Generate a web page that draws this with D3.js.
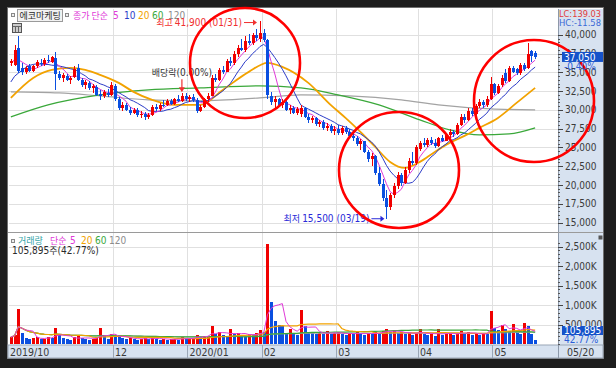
<!DOCTYPE html>
<html>
<head>
<meta charset="utf-8">
<script src="https://cdn.jsdelivr.net/npm/d3@7"></script>
<style>
  html, body { margin: 0; padding: 0; background: #1d1d1d; }
  svg { display: block; }
  text { font-family: 'Liberation Sans Narrow', 'Arial Narrow', 'DejaVu Sans Condensed', 'Noto Sans CJK KR', sans-serif; }
</style>
</head>
<body>
<svg id="chart"></svg>
<script>
// months shown on the x axis ('' = month not labelled)
const monthLabels = ['2019/10', '', '12', '2020/01', '02', '03', '04', '05'];
const sessionsPerMonth = [7, 21, 20, 20, 20, 22, 20, 12];

const opens = [
  36200, 36000, 38200, 35600, 35000, 35800, 35200,
  35800, 36300, 36100, 36700, 36400, 36900, 34800, 34300, 34500, 34000, 34400, 35600, 34000, 33300, 33600, 32900, 33100, 32100, 31900, 32300, 32000,
  33200, 31400, 30300, 30700, 30000, 29600, 30000, 29300, 29500, 29000, 29300, 30400, 30100, 30700, 30600, 31200, 30800, 31400, 31200, 31900,
  31500, 31700, 31300, 29900, 30400, 31400, 31900, 34200, 34000, 35300, 35100, 36500, 36200, 37500, 38300, 38000, 39200, 38900, 40000, 39400,
  40200, 39300, 31800, 31000, 31400, 30700, 31100, 30000, 30300, 29600, 29400, 30200, 29100, 28600, 28900, 28100, 28400, 27600, 27900, 27200,
  27500, 26900, 27600, 27000, 26500, 26200, 25500, 25800, 24400, 23400, 23900, 21600, 20100, 18200, 17000, 18600, 19900, 21300, 20300, 22000, 23200, 22900,
  24800, 25600, 25300, 26000, 25600, 25200, 26200, 25900, 26700, 27100, 26800, 28000, 29100, 28700, 29800, 29500, 30500, 31100, 30600, 31400,
  33400, 32300, 33300, 34900, 33900, 35600, 35400, 34900, 36000, 35600, 37800, 37600
];
const highs = [
  36800, 38600, 39800, 36300, 35900, 36100, 36000,
  36600, 36800, 36900, 37300, 37200, 37700, 35200, 34900, 34800, 34500, 35800, 36100, 34300, 34000, 33900, 33500, 33300, 32600, 32700, 32800, 33700,
  33400, 31700, 31000, 30900, 30400, 30300, 30200, 29800, 29700, 29600, 30600, 30800, 30900, 31300, 31400, 31500, 31600, 32000, 32200, 32200,
  32000, 32100, 31600, 30600, 31600, 32200, 34600, 34800, 35600, 35800, 36800, 37000, 37800, 38600, 39500, 39800, 40100, 40300, 40800, 41900,
  40800, 39500, 32400, 31800, 31600, 31500, 31300, 30700, 30500, 30400, 30600, 30400, 29500, 29200, 29000, 28700, 28600, 28200, 28100, 27800,
  28000, 27900, 27900, 27400, 26900, 26500, 26100, 25900, 24700, 24300, 24000, 22400, 20800, 19300, 18900, 20300, 21700, 21600, 22400, 23600, 24400, 25300,
  25900, 26200, 26300, 26400, 26100, 26400, 26700, 26900, 27400, 27300, 28300, 29400, 29400, 30200, 30300, 30800, 31400, 31300, 31800, 34400,
  33600, 33500, 34700, 35400, 35900, 35800, 35600, 36300, 36200, 38900, 38000, 37900
];
const lows = [
  35900, 35800, 34900, 34600, 34800, 35000, 35000,
  35600, 35900, 35900, 36300, 36200, 32700, 34000, 33700, 33800, 33500, 34200, 33800, 33000, 32800, 32600, 32200, 31800, 31300, 31600, 31700, 31900,
  31200, 30000, 29900, 29800, 29300, 29400, 29000, 28900, 28700, 28800, 29200, 29900, 29900, 30400, 30500, 30600, 30600, 31000, 31000, 31200,
  31000, 31100, 29600, 29700, 30200, 31100, 31800, 33700, 33800, 34800, 35000, 35800, 36000, 37000, 37800, 37700, 38600, 38700, 39200, 39100,
  39000, 31500, 30600, 30200, 30400, 30300, 29800, 29500, 29400, 29300, 29100, 28900, 28300, 28200, 27900, 27700, 27300, 27200, 26900, 26700,
  26600, 26700, 26800, 26200, 25800, 25200, 24700, 24200, 23000, 22500, 21300, 19800, 17800, 15500, 16600, 18300, 19500, 19800, 20100, 21600, 22700, 22600,
  24500, 25100, 25000, 25300, 24900, 25100, 25700, 25800, 26300, 26400, 26700, 27800, 28300, 28500, 29200, 29300, 30200, 30300, 30400, 31300,
  32000, 32100, 33100, 33600, 33700, 34900, 34600, 34700, 35200, 35400, 36400, 36800
];
const closes = [
  36500, 38000, 35200, 35000, 35600, 35200, 35800,
  36400, 36100, 36700, 36500, 37000, 34800, 34300, 34600, 34000, 34300, 35400, 34000, 33300, 33700, 32900, 33200, 32000, 31900, 32400, 32000, 33300,
  31400, 30300, 30700, 30000, 29600, 30000, 29300, 29500, 29000, 29300, 30400, 30100, 30700, 30600, 31200, 30800, 31400, 31200, 31900, 31500,
  31700, 31300, 29900, 30400, 31400, 31900, 34200, 34000, 35300, 35100, 36500, 36200, 37500, 38300, 38000, 39200, 38900, 40000, 39600, 40200,
  39300, 32000, 31000, 31400, 30700, 31100, 30000, 30300, 29600, 30100, 30200, 29100, 28600, 28900, 28100, 28400, 27600, 27900, 27200, 27500,
  26900, 27600, 27000, 26500, 26200, 25500, 25800, 24400, 23400, 23900, 21600, 20100, 18200, 17000, 18600, 19900, 21300, 20300, 22000, 23200, 22900, 25000,
  25600, 25300, 26000, 25600, 25200, 26200, 25900, 26700, 27100, 26800, 28000, 29100, 28700, 29800, 29500, 30500, 31100, 30600, 31500, 33500,
  32300, 33200, 34300, 33900, 35600, 35100, 34900, 36000, 35500, 37400, 37200, 37050
];
// thousand shares
const volumesK = [
  180, 240, 910, 290, 160, 130, 150,
  170, 120, 140, 190, 160, 420, 230, 150, 120, 110, 180, 200, 150, 130, 110, 140, 170, 420, 210, 140, 260,
  230, 180, 150, 120, 160, 140, 110, 130, 150, 120, 170, 140, 110, 130, 100, 120, 140, 110, 180, 130,
  140, 160, 240, 180, 200, 210, 470, 260, 300, 220, 180, 390, 250, 280, 230, 200, 260, 240, 280, 360,
  300, 2570, 1070, 600, 480, 460, 290, 390, 260, 240, 860, 470, 320, 280, 250, 300, 260, 330, 250, 280,
  310, 260, 240, 280, 250, 300, 270, 230, 290, 250, 320, 280, 340, 390, 300, 330, 280, 310, 260, 300, 240, 270,
  380, 250, 220, 260, 210, 380, 230, 250, 290, 220, 290, 330, 260, 300, 240, 270, 230, 280, 250, 840,
  420, 350, 480, 380, 330, 520, 300, 260, 540, 470, 247.6, 105.895
];
// closes of the 9 sessions before the window (for the 5/10 day averages)
const prevCloses = [30500, 31000, 31200, 31800, 32500, 34500, 35500, 36500, 37200];

// longer averages: [session, price]
const ma20Points = [[0, 31600], [6, 34260], [11, 35330], [16, 35590], [20, 35330], [24, 34660], [29, 33600], [33, 32400],
  [38, 31330], [44, 30670], [51, 30670], [57, 32660], [64, 35060], [69, 36260], [73, 35730], [80, 33600], [86, 30670],
  [90, 28930], [94, 27070], [98, 25070], [102, 23070], [106, 22270], [110, 23070], [114, 24400], [118, 25600],
  [122, 26540], [126, 27600], [131, 28930], [136, 30930], [141, 32930]];
const ma60Points = [[0, 29070], [10, 30670], [24, 32000], [37, 32660], [51, 32930], [67, 33200], [78, 32930], [88, 32000],
  [99, 30670], [110, 28670], [118, 27340], [126, 26670], [134, 26800], [141, 27600]];
const ma120Points = [[0, 32400], [13, 32260], [24, 31860], [37, 31330], [51, 31200], [67, 31600], [78, 32000], [91, 31860],
  [105, 31330], [115, 30670], [129, 30130], [141, 30000]];

const priceTicks = [15000, 17500, 20000, 22500, 25000, 27500, 30000, 32500, 35000, 37500, 40000];
const volumeTicks = [500000, 1000000, 1500000, 2000000, 2500000];
const volumeTickLabels = ['500,000', '1,000K', '1,500K', '2,000K', '2,500K'];

const W = 616, H = 368;
const left = 9, plotRight = 558, axisRight = 603;
const priceTop = 9, priceBottom = 232, volBottom = 345, barBottom = 358;
const upColor = '#f00000', downColor = '#0a4fe0';
const maColors = {5: '#e03ad8', 10: '#2c3cc8', 20: '#f2a200', 60: '#3aa83a', 120: '#a3a3a3'};
const gridColor = '#e0e0e0';
const hangul = "'Noto Sans CJK KR', sans-serif";

const N = closes.length;
const volumes = volumesK.map(v => Math.round(v * 1000));

const movingAverage = (values, n, prior = []) => {
  const all = prior.concat(values);
  return values.map((v, i) => {
    const end = prior.length + i + 1;
    return d3.mean(all.slice(Math.max(0, end - n), end));
  });
};

const svg = d3.select('#chart').attr('width', W).attr('height', H);
svg.append('rect').attr('width', W).attr('height', H).attr('fill', '#1d1d1d');
svg.append('rect').attr('x', 7.5).attr('y', 7.5).attr('width', 596).attr('height', 351)
  .attr('fill', '#fff').attr('stroke', '#6f6f6f');

const x = d3.scaleBand()
  .domain(d3.range(N))
  .range([left, 537])
  .paddingInner(0.32)
  .paddingOuter(0.16);
const cx = i => x(i) + x.bandwidth() / 2;
const boundary = i => cx(i) - x.step() / 2;

const y = d3.scaleLinear().domain([15000, 40000]).range([222.5, 34.8]);
const yVol = d3.scaleLinear().domain([0, 2500000]).range([344, 246.5]);

const monthStarts = Array.from(d3.cumsum([0].concat(sessionsPerMonth.slice(0, -1))));
const months = monthStarts.map((s, k) => ({s, label: monthLabels[k]})).filter(d => d.label);
const labelled = months.filter(d => d.s > 0);

// right axis panel and x axis strip
svg.append('rect').attr('x', plotRight).attr('y', priceTop).attr('width', axisRight - plotRight).attr('height', volBottom - priceTop)
  .attr('fill', '#d7e2f0');
svg.append('rect').attr('x', 8).attr('y', volBottom).attr('width', axisRight - 8).attr('height', barBottom - volBottom)
  .attr('fill', '#d7e2f0').attr('stroke', '#9aa6b6');
svg.append('line').attr('x1', plotRight + 0.5).attr('x2', plotRight + 0.5).attr('y1', priceTop).attr('y2', barBottom)
  .attr('stroke', '#8d99aa');

// grid
const grid = svg.append('g').attr('shape-rendering', 'crispEdges');
grid.selectAll('.hp').data(priceTicks).join('line')
  .attr('x1', left).attr('x2', plotRight)
  .attr('y1', d => Math.round(y(d)) + 0.5).attr('y2', d => Math.round(y(d)) + 0.5)
  .attr('stroke', gridColor);
grid.selectAll('.hv').data(volumeTicks).join('line')
  .attr('x1', left).attr('x2', plotRight)
  .attr('y1', d => Math.round(yVol(d)) + 0.5).attr('y2', d => Math.round(yVol(d)) + 0.5)
  .attr('stroke', gridColor);
grid.selectAll('.vm').data(labelled).join('line')
  .attr('x1', d => Math.round(boundary(d.s)) + 0.5).attr('x2', d => Math.round(boundary(d.s)) + 0.5)
  .attr('y1', priceTop).attr('y2', volBottom)
  .attr('stroke', gridColor);

// pane separator
svg.append('line').attr('x1', 8).attr('x2', axisRight).attr('y1', priceBottom + 0.5).attr('y2', priceBottom + 0.5)
  .attr('stroke', '#9a9a9a');

// price axis
const axisG = svg.append('g').attr('shape-rendering', 'crispEdges');
axisG.selectAll('.minor').data(d3.range(15000, 40001, 500)).join('line')
  .attr('x1', plotRight).attr('x2', plotRight + 2)
  .attr('y1', d => Math.round(y(d)) + 0.5).attr('y2', d => Math.round(y(d)) + 0.5)
  .attr('stroke', '#555');
axisG.selectAll('.major').data(priceTicks).join('line')
  .attr('x1', plotRight).attr('x2', plotRight + 5)
  .attr('y1', d => Math.round(y(d)) + 0.5).attr('y2', d => Math.round(y(d)) + 0.5)
  .attr('stroke', '#444');
svg.append('g').selectAll('text').data(priceTicks).join('text')
  .attr('x', plotRight + 7).attr('y', d => y(d) + 3.6)
  .attr('font-size', 10).attr('fill', '#3a3a3a')
  .text(d3.format(','));

axisG.selectAll('.vminor').data(d3.range(0, 2600001, 100000)).join('line')
  .attr('x1', plotRight).attr('x2', plotRight + 2)
  .attr('y1', d => Math.round(yVol(d)) + 0.5).attr('y2', d => Math.round(yVol(d)) + 0.5)
  .attr('stroke', '#555');
axisG.selectAll('.vmajor').data(volumeTicks).join('line')
  .attr('x1', plotRight).attr('x2', plotRight + 5)
  .attr('y1', d => Math.round(yVol(d)) + 0.5).attr('y2', d => Math.round(yVol(d)) + 0.5)
  .attr('stroke', '#444');
svg.append('g').selectAll('text').data(volumeTicks).join('text')
  .attr('x', plotRight + 7).attr('y', d => yVol(d) + 3.6)
  .attr('font-size', 10).attr('fill', '#3a3a3a')
  .text((d, i) => volumeTickLabels[i]);

// x axis labels
const xLabels = svg.append('g');
xLabels.selectAll('line').data(labelled).join('line')
  .attr('x1', d => Math.round(boundary(d.s)) + 0.5).attr('x2', d => Math.round(boundary(d.s)) + 0.5)
  .attr('y1', volBottom).attr('y2', barBottom)
  .attr('stroke', '#9aa6b6').attr('shape-rendering', 'crispEdges');
xLabels.selectAll('text').data(months).join('text')
  .attr('x', d => d.s === 0 ? 10 : boundary(d.s) + 2)
  .attr('y', 355.5)
  .attr('font-size', 10.5).attr('fill', '#3a3a3a')
  .text(d => d.label);
xLabels.append('text').attr('x', 567).attr('y', 355.5).attr('font-size', 10.5).attr('fill', '#3a3a3a').text('05/20');

// clip areas
const defs = svg.append('defs');
defs.append('clipPath').attr('id', 'clipPrice').append('rect')
  .attr('x', left).attr('y', priceTop).attr('width', plotRight - left).attr('height', priceBottom - priceTop);
defs.append('clipPath').attr('id', 'clipVol').append('rect')
  .attr('x', left).attr('y', priceBottom + 1).attr('width', plotRight - left).attr('height', volBottom - priceBottom - 1);

const priceG = svg.append('g').attr('clip-path', 'url(#clipPrice)');
const volG = svg.append('g').attr('clip-path', 'url(#clipVol)');

// moving average lines (price)
const idx = d3.range(N);
const line = d3.line().curve(d3.curveMonotoneX);
const drawPoints = (pts, color, width) => {
  priceG.append('path')
    .attr('d', line(pts.map(([i, v]) => [cx(i), y(v)])))
    .attr('fill', 'none').attr('stroke', color).attr('stroke-width', width);
};
drawPoints(ma120Points, maColors[120], 1.2);
drawPoints(ma60Points, maColors[60], 1.2);
drawPoints(ma20Points, maColors[20], 1.8);
const ma10 = movingAverage(closes, 10, prevCloses);
const ma5 = movingAverage(closes, 5, prevCloses);
priceG.append('path')
  .attr('d', d3.line()(idx.map(i => [cx(i), y(ma10[i])])))
  .attr('fill', 'none').attr('stroke', maColors[10]).attr('stroke-width', 1);
priceG.append('path')
  .attr('d', d3.line()(idx.map(i => [cx(i), y(ma5[i])])))
  .attr('fill', 'none').attr('stroke', maColors[5]).attr('stroke-width', 1);

// candles
const candleColor = i => closes[i] >= opens[i] ? upColor : downColor;
const candles = priceG.selectAll('.candle').data(idx).join('g')
  .attr('class', 'candle').attr('shape-rendering', 'crispEdges');
candles.append('line')
  .attr('x1', i => Math.round(cx(i)) + 0.5).attr('x2', i => Math.round(cx(i)) + 0.5)
  .attr('y1', i => y(highs[i])).attr('y2', i => y(lows[i]))
  .attr('stroke', candleColor);
candles.append('rect')
  .attr('x', i => Math.round(cx(i)) - 1)
  .attr('width', 3)
  .attr('y', i => y(Math.max(opens[i], closes[i])))
  .attr('height', i => Math.max(1, Math.abs(y(opens[i]) - y(closes[i]))))
  .attr('fill', candleColor);

// volume
const volColor = i => i === 0 || volumes[i] >= volumes[i - 1] ? upColor : downColor;
volG.selectAll('rect').data(idx).join('rect')
  .attr('shape-rendering', 'crispEdges')
  .attr('x', i => Math.round(cx(i)) - 1)
  .attr('width', 3)
  .attr('y', i => yVol(volumes[i]))
  .attr('height', i => yVol(0) - yVol(volumes[i]))
  .attr('fill', volColor);
[[120, 1], [60, 1.2], [20, 1.2], [5, 1]].forEach(([n, w]) => {
  const ma = movingAverage(volumes, n);
  volG.append('path')
    .attr('d', d3.line()(idx.map(i => [cx(i), yVol(ma[i])])))
    .attr('fill', 'none').attr('stroke', maColors[n]).attr('stroke-width', w);
});

// legends
const legend = (xp, yp, str, color, size = 9.5, font = null) => {
  const t = svg.append('text').attr('x', xp).attr('y', yp).attr('font-size', size).attr('fill', color).text(str);
  if (font) t.style('font-family', font);
  return t;
};
const icon = (xp, yp) => svg.append('rect').attr('x', xp + 0.5).attr('y', yp + 0.5).attr('width', 3).attr('height', 3)
  .attr('fill', '#eee').attr('stroke', '#888');
icon(11, 13);
svg.append('rect').attr('x', 17.5).attr('y', 9.5).attr('width', 45).attr('height', 12)
  .attr('fill', '#f2f2f2').attr('stroke', '#9a9a9a');
legend(19.5, 19, '에코마케팅', '#2a2a2a', 9, hangul);
icon(65, 13);
legend(73, 19, '종가 단순', maColors[5], 9, hangul);
legend(113, 19, '5', maColors[5], 10);
legend(124, 19, '10', maColors[10], 10);
legend(138, 19, '20', maColors[20], 10);
legend(152, 19, '60', maColors[60], 10);
legend(168, 19, '120', '#8c8c8c', 10);
// table icon
const tbl = svg.append('g').attr('shape-rendering', 'crispEdges');
tbl.append('rect').attr('x', 12.5).attr('y', 23.5).attr('width', 9).attr('height', 9).attr('fill', '#ccc').attr('stroke', '#555');
[15.5, 18.5].forEach(v => {
  tbl.append('line').attr('x1', v).attr('x2', v).attr('y1', 26).attr('y2', 32).attr('stroke', '#666');
});
tbl.append('line').attr('x1', 13).attr('x2', 21).attr('y1', 26.5).attr('y2', 26.5).attr('stroke', '#666');

icon(11, 239);
legend(18, 244, '거래량', '#33a3a6', 9, hangul);
legend(50, 244, '단순', maColors[5], 9, hangul);
legend(70, 244, '5', maColors[5], 10);
legend(81, 244, '20', maColors[20], 10);
legend(95, 244, '60', maColors[60], 10);
legend(109, 244, '120', '#8c8c8c', 10);
const volNote = svg.append('text').attr('x', 12).attr('y', 254).attr('font-size', 10).attr('fill', '#2a2a2a');
volNote.append('tspan').text('105,895');
volNote.append('tspan').style('font-family', hangul).attr('font-size', 9).text('주');
volNote.append('tspan').text('(42.77%)');
svg.append('rect').attr('x', 598.5).attr('y', 235.5).attr('width', 4).attr('height', 4).attr('fill', '#555');

// axis header values
svg.append('text').attr('x', 559).attr('y', 17).attr('font-size', 9.5).attr('fill', '#e23a3a')
  .attr('textLength', 42).attr('lengthAdjust', 'spacingAndGlyphs').text('LC:139.03');
svg.append('text').attr('x', 559).attr('y', 26).attr('font-size', 9.5).attr('fill', '#3a68d6')
  .attr('textLength', 42).attr('lengthAdjust', 'spacingAndGlyphs').text('HC:-11.58');

// annotations
const last = N - 1;
const hiIdx = highs.indexOf(d3.max(highs));
const loIdx = lows.indexOf(d3.min(lows));
const arrowRight = (x2, yp, color) => {
  svg.append('line').attr('x1', x2 - 13).attr('x2', x2 - 3).attr('y1', yp).attr('y2', yp).attr('stroke', color);
  svg.append('path').attr('d', `M${x2},${yp}L${x2 - 4},${yp - 3}L${x2 - 4},${yp + 3}Z`).attr('fill', color);
};
const hiY = y(highs[hiIdx]) + 2;
arrowRight(cx(hiIdx) - 3, hiY, '#f03030');
const hiText = svg.append('text').attr('x', cx(hiIdx) - 18).attr('y', hiY + 3.5).attr('text-anchor', 'end')
  .attr('font-size', 10).attr('fill', '#f03030');
hiText.append('tspan').style('font-family', hangul).attr('font-size', 9).text('최고 ');
hiText.append('tspan').text(`${d3.format(',')(highs[hiIdx])} (01/31)`);

const loY = y(lows[loIdx]);
arrowRight(cx(loIdx) - 2, loY, '#2a2ad8');
const loText = svg.append('text').attr('x', cx(loIdx) - 17).attr('y', loY + 3.5).attr('text-anchor', 'end')
  .attr('font-size', 10).attr('fill', '#2a2ad8');
loText.append('tspan').style('font-family', hangul).attr('font-size', 9).text('최저 ');
loText.append('tspan').text(`${d3.format(',')(lows[loIdx])} (03/19)`);

const divIdx = 46;
const divX = cx(divIdx);
const divTop = y(highs[divIdx]) - 14;
svg.append('line').attr('x1', divX).attr('x2', divX).attr('y1', divTop).attr('y2', divTop + 9).attr('stroke', '#f03030').attr('stroke-width', 1.2);
svg.append('path').attr('d', `M${divX},${divTop + 13}L${divX - 3},${divTop + 8}L${divX + 3},${divTop + 8}Z`).attr('fill', '#f03030');
const divText = svg.append('text').attr('x', divX).attr('y', divTop - 3).attr('text-anchor', 'middle')
  .attr('font-size', 10).attr('fill', '#333');
divText.append('tspan').style('font-family', hangul).attr('font-size', 9).text('배당락');
divText.append('tspan').text('(0.00%)');

// highlight circles
const circles = [[245, 63, 55, 55], [399, 170, 60, 58], [534, 101, 60, 61]];
svg.selectAll('.hl').data(circles).join('ellipse')
  .attr('cx', d => d[0]).attr('cy', d => d[1]).attr('rx', d => d[2]).attr('ry', d => d[3])
  .attr('fill', 'none').attr('stroke', '#ff0000').attr('stroke-width', 2.6);

// current price / volume boxes
const pct = (closes[last] / closes[last - 1] - 1) * 100;
const cy = y(closes[last]);
svg.append('rect').attr('x', 562).attr('y', cy - 5).attr('width', 41).attr('height', 10).attr('fill', '#1552c9');
svg.append('text').attr('x', 564).attr('y', cy + 3.8).attr('font-size', 10).attr('fill', '#fff').text(d3.format(',')(closes[last]));
svg.append('text').attr('x', 564).attr('y', cy + 13).attr('font-size', 10).attr('fill', '#2a5ed8').text(`${pct.toFixed(2)}%`);

svg.append('rect').attr('x', 562).attr('y', 326).attr('width', 41).attr('height', 9).attr('fill', '#1552c9');
svg.append('text').attr('x', 564).attr('y', 334).attr('font-size', 10).attr('fill', '#fff').text(d3.format(',')(volumes[last]));
svg.append('text').attr('x', 564).attr('y', 343).attr('font-size', 10).attr('fill', '#2a5ed8')
  .text(`${(volumes[last] / volumes[last - 1] * 100).toFixed(2)}%`);
</script>
</body>
</html>
